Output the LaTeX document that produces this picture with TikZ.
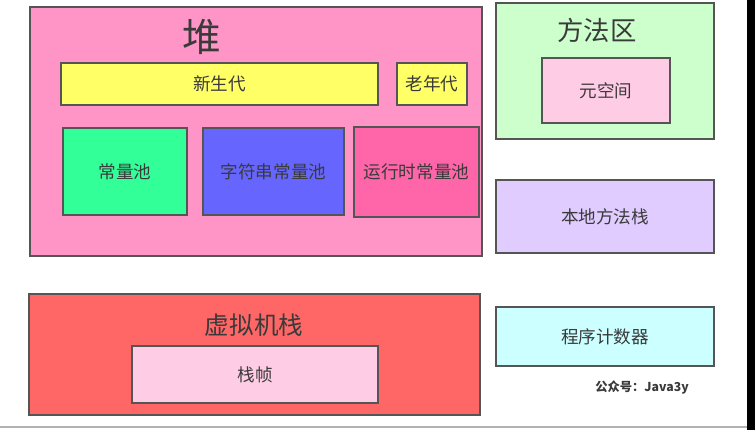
\documentclass[tikz,border=0pt]{standalone}
\usepackage{fontspec}
\usepackage{xcolor}
\usepackage{tikz}
\newfontfamily\cjk{Noto Sans CJK SC}

\definecolor{heapc}{HTML}{FF94C6}
\definecolor{genc}{HTML}{FFFF66}
\definecolor{poolc}{HTML}{33FF99}
\definecolor{strc}{HTML}{6666FF}
\definecolor{runc}{HTML}{FF66AA}
\definecolor{methc}{HTML}{CCFFCC}
\definecolor{metac}{HTML}{FFCCE6}
\definecolor{nativec}{HTML}{E0CCFF}
\definecolor{vmc}{HTML}{FF6666}
\definecolor{pcc}{HTML}{CCFFFF}
\definecolor{edgec}{HTML}{555555}
\definecolor{txtc}{HTML}{3A3A3A}

\begin{document}
\begin{tikzpicture}[x=0.02cm,y=-0.02cm,
    area/.style={draw=edgec,line width=1.1pt,rectangle,inner sep=0pt,
        text=txtc,font=\cjk\fontsize{10}{12}\selectfont},
    title/.style={text=txtc,inner sep=0pt}]
    \useasboundingbox (0,0) rectangle (755,430);
    \fill[white] (0,0) rectangle (755,430);
    \fill[black] (747,0) rectangle (755,430);
    \draw[gray!60,line width=0.8pt] (0,427) -- (747,427);
    % heap
    \node[area,fill=heapc,minimum width=9.04cm,minimum height=4.98cm] (heap) at (256,131.5) {};
    \node[title,font=\cjk\fontsize{22}{26}\selectfont] (heapt) at (202,37) {堆};
    \node[area,fill=genc,minimum width=6.34cm,minimum height=0.84cm] (young) at (219.5,84) {新生代};
    \node[area,fill=genc,minimum width=1.4cm,minimum height=0.84cm] (old) at (432,84) {老年代};
    \node[area,fill=poolc,minimum width=2.48cm,minimum height=1.74cm] (pool) at (125,171.5) {常量池};
    \node[area,fill=strc,minimum width=2.82cm,minimum height=1.74cm] (strpool) at (273.5,171.5) {字符串常量池};
    \node[area,fill=runc,minimum width=2.5cm,minimum height=1.8cm] (runpool) at (416.5,172) {运行时常量池};
    % method area
    \node[area,fill=methc,minimum width=4.36cm,minimum height=2.72cm] (method) at (605,71) {};
    \node[title,font=\cjk\fontsize{15}{18}\selectfont] (methodt) at (597,30) {方法区};
    \node[area,fill=metac,minimum width=2.56cm,minimum height=1.3cm] (meta) at (606,90.5) {元空间};
    \node[area,fill=nativec,minimum width=4.36cm,minimum height=1.46cm] (native) at (605,216.5) {本地方法栈};
    % vm stack
    \node[area,fill=vmc,minimum width=9.02cm,minimum height=2.42cm] (vm) at (254.5,354.5) {};
    \node[title,font=\cjk\fontsize{14}{17}\selectfont] (vmt) at (254,325) {虚拟机栈};
    \node[area,fill=metac,minimum width=4.92cm,minimum height=1.14cm] (frame) at (255,374.5) {栈帧};
    \node[area,fill=pcc,minimum width=4.36cm,minimum height=1.18cm] (pc) at (605,336.5) {程序计数器};
    \node[title,font=\cjk\bfseries\fontsize{7}{8}\selectfont] (sign) at (642,388) {公众号：Java3y};
\end{tikzpicture}
\end{document}
